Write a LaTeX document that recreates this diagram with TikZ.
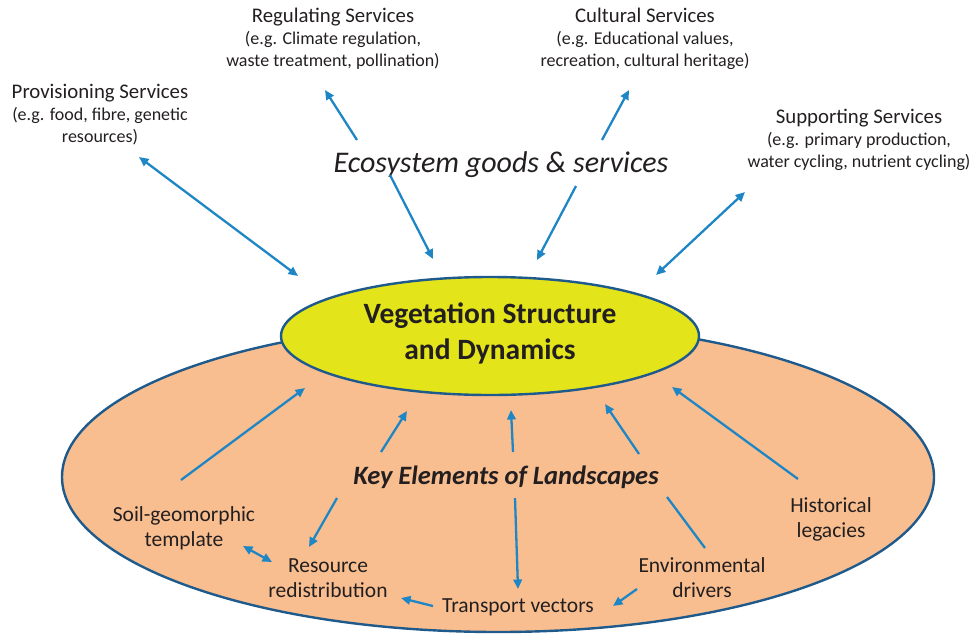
\documentclass[tikz,border=0pt]{standalone}
\usepackage{fontspec}
\setmainfont{Carlito}
\usetikzlibrary{arrows.meta,shapes.geometric}
\definecolor{arrblue}{HTML}{1F86C6}
\definecolor{edgeblue}{HTML}{1F5A8C}
\definecolor{peach}{HTML}{F9BE8F}
\definecolor{vegyellow}{HTML}{E3E41A}
\definecolor{txt}{HTML}{231F20}
\newcommand{\svchead}{\fontsize{20.8}{22}\selectfont}
\tikzset{
  conn/.style={arrblue, line width=2.3pt, -{Triangle[length=9.5pt,width=8.5pt]}},
  dconn/.style={arrblue, line width=2.3pt, {Triangle[length=9.5pt,width=8.5pt]}-{Triangle[length=9.5pt,width=8.5pt]}},
  pconn/.style={arrblue, line width=2.3pt},
  svc/.style={align=center, text=txt, font=\fontsize{18}{22}\selectfont, inner sep=0pt},
  lbl/.style={align=center, text=txt, font=\fontsize{21.5}{25}\selectfont, inner sep=0pt},
}
\begin{document}
\begin{tikzpicture}[x=1pt,y=-1pt]
\useasboundingbox (0,0) rectangle (971,640);
% landscape ellipse
\node[ellipse, draw=edgeblue, line width=2.4pt, fill=peach, minimum width=872pt, minimum height=310pt, inner sep=0pt] (land) at (498,477) {};
% vegetation ellipse
\node[ellipse, draw=edgeblue, line width=2.4pt, fill=vegyellow, minimum width=418pt, minimum height=118pt, inner sep=0pt] (veg) at (490,336) {};
\node[align=center, text=txt, font=\fontsize{29.5}{36}\selectfont\bfseries, inner sep=0pt] (vegt) at (490,333) {Vegetation Structure\\and Dynamics};

% services texts
\node[svc] (prov) at (100,115) {{\svchead Provisioning Services}\\(e.g. food, fibre, genetic\\resources)};
\node[svc] (reg) at (333,39) {{\svchead Regulating Services}\\(e.g. Climate regulation,\\waste treatment, pollination)};
\node[svc] (cult) at (645,39) {{\svchead Cultural Services}\\(e.g. Educational values,\\recreation, cultural heritage)};
\node[svc] (supp) at (859,140) {{\svchead Supporting Services}\\(e.g. primary production,\\water cycling, nutrient cycling)};
\node[text=txt, font=\fontsize{30}{34}\selectfont\itshape, inner sep=0pt] (eco) at (501,165) {Ecosystem goods \& services};
\node[text=txt, font=\fontsize{26.5}{30}\selectfont\bfseries\itshape, inner sep=0pt] (key) at (506,477) {Key Elements of Landscapes};

% lower labels
\node[lbl] (soil) at (184,528) {Soil-geomorphic\\template};
\node[lbl] (res) at (328,578) {Resource\\redistribution};
\node[lbl] (trans) at (518,607) {Transport vectors};
\node[lbl] (env) at (702,578) {Environmental\\drivers};
\node[lbl] (hist) at (831,519) {Historical\\legacies};

% coordinates for connector ends
\coordinate (p1) at (139,157); \coordinate (p2) at (298,276);
\coordinate (r1) at (357,140); \coordinate (r2) at (325,90);
\coordinate (e1) at (390,175); \coordinate (e2) at (433,259);
\coordinate (c1) at (602,140); \coordinate (c2) at (629,90);
\coordinate (e3) at (576,186); \coordinate (e4) at (537,260);
\coordinate (s1) at (745,192); \coordinate (s2) at (656,275);

\coordinate (k1) at (181,480); \coordinate (k2) at (305,388);
\coordinate (k3) at (381,452); \coordinate (k4) at (407,411);
\coordinate (k5) at (513,452); \coordinate (k6) at (511,410);
\coordinate (k7) at (639,454); \coordinate (k8) at (605,404);
\coordinate (k9) at (798,479); \coordinate (k10) at (672,387);
\coordinate (m1) at (337,498); \coordinate (m2) at (309,547);
\coordinate (m3) at (515,498); \coordinate (m4) at (518,589);
\coordinate (m5) at (667,497); \coordinate (m6) at (705,548);
\coordinate (g1) at (243,546); \coordinate (g2) at (272,562);
\coordinate (t1) at (433,606); \coordinate (t2) at (401,598);
\coordinate (v1) at (637,589); \coordinate (v2) at (613,606);

% upper connectors
\draw[dconn] (p1) -- (p2);
\draw[conn] (r1) -- (r2);
\draw[conn] (e1) -- (e2);
\draw[conn] (c1) -- (c2);
\draw[conn] (e3) -- (e4);
\draw[dconn] (s1) -- (s2);

% lower connectors
\draw[conn] (k1) -- (k2);
\draw[conn] (k3) -- (k4);
\draw[conn] (k5) -- (k6);
\draw[conn] (k7) -- (k8);
\draw[conn] (k9) -- (k10);
\draw[conn] (m1) -- (m2);
\draw[conn] (m3) -- (m4);
\draw[pconn] (m5) -- (m6);
\draw[dconn] (g1) -- (g2);
\draw[conn] (t1) -- (t2);
\draw[conn] (v1) -- (v2);
\end{tikzpicture}
\end{document}
